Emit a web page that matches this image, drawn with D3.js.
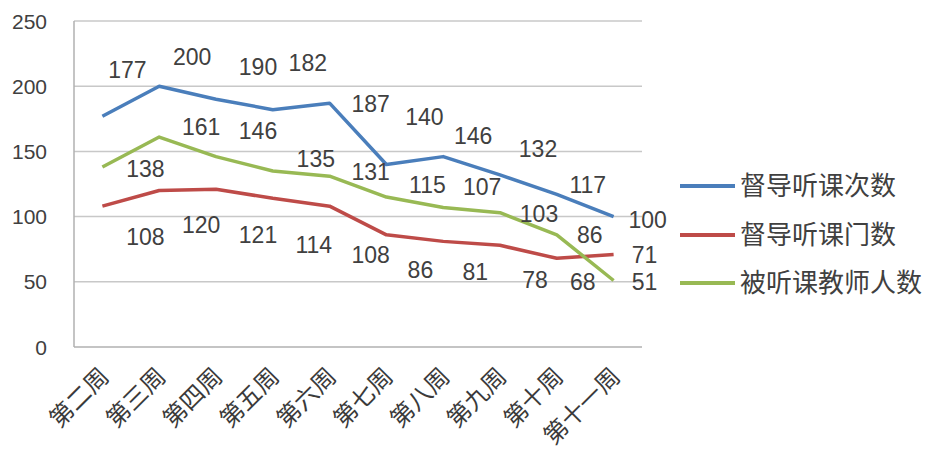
<!DOCTYPE html>
<html><head><meta charset="utf-8">
<script src="https://cdn.jsdelivr.net/npm/d3@7"></script>
<style>body{margin:0;background:#fff}</style>
</head><body>
<script>
const categories = ["第二周","第三周","第四周","第五周","第六周","第七周","第八周","第九周","第十周","第十一周"];
const seriesNames = ["督导听课次数","督导听课门数","被听课教师人数"];
const visits   = [177,200,190,182,187,140,146,132,117,100];
const courses  = [108,120,121,114,108,86,81,78,68,71];
const teachers = [138,161,146,135,131,115,107,103,86,51];
const yTicks = [0,50,100,150,200,250];
// label nudges (px) relative to each point, as placed in the original
const visitsNudge   = [[25,-38],[33,-21],[42,-24],[35,-39],[41,9],[38,-39],[30,-13],[38,-18],[31,-1],[34,11]];
const coursesNudge  = [[43,39],[42,42],[42,54],[41,55],[41,57],[34,43],[32,39],[35,43],[26,32],[31,9]];
const teachersNudge = [[43,10],[42,-2],[42,-18],[43,-4],[41,4],[41,-4],[39,-12],[39,9],[33,8],[31,10]];

const W=928,H=455;
const svg=d3.select("body").append("svg").attr("width",W).attr("height",H);
const x=d3.scalePoint().domain(categories).range([74,642]).padding(0.5);
const y=d3.scaleLinear().domain([0,250]).range([347,21]);

// gridlines
svg.append("g").selectAll("line").data(yTicks.filter(d=>d>0)).join("line")
  .attr("x1",74).attr("x2",642).attr("y1",d=>y(d)).attr("y2",d=>y(d))
  .attr("stroke","#c8c8c8").attr("stroke-width",1.5);
// axes lines
svg.append("line").attr("x1",74).attr("x2",74).attr("y1",y(250)).attr("y2",y(0)).attr("stroke","#b0b0b0").attr("stroke-width",1.5);
svg.append("line").attr("x1",74).attr("x2",642).attr("y1",y(0)).attr("y2",y(0)).attr("stroke","#b0b0b0").attr("stroke-width",1.5);

// y tick labels
svg.append("g").selectAll("text").data(yTicks).join("text")
  .attr("x",47).attr("y",d=>y(d)).attr("dy","0.36em").attr("text-anchor","end")
  .attr("font-family","Liberation Sans, Arial, sans-serif").attr("font-size",21).attr("fill","#404040")
  .text(d=>d);

// x tick labels
svg.append("g").selectAll("text").data(categories).join("text")
  .attr("transform",d=>`translate(${x(d)+8},378) rotate(-45)`)
  .attr("text-anchor","end")
  .attr("font-family","Noto Sans CJK SC, sans-serif").attr("font-size",24).attr("fill","#3a3a3a")
  .text(d=>d);

const series=[
  {name:seriesNames[0],values:visits,color:"#4A7EBB",nudge:visitsNudge},
  {name:seriesNames[1],values:courses,color:"#BE4B48",nudge:coursesNudge},
  {name:seriesNames[2],values:teachers,color:"#98B954",nudge:teachersNudge}
];
const line=d3.line().x((d,i)=>x(categories[i])).y(d=>y(d));
series.forEach(s=>{
  svg.append("path").datum(s.values).attr("d",line).attr("fill","none")
    .attr("stroke",s.color).attr("stroke-width",3.5).attr("stroke-linejoin","round");
});
series.forEach(s=>{
  svg.append("g").selectAll("text").data(s.values).join("text")
    .attr("x",(d,i)=>x(categories[i])+s.nudge[i][0])
    .attr("y",(d,i)=>y(d)+s.nudge[i][1])
    .attr("text-anchor","middle")
    .attr("font-family","Liberation Sans, Arial, sans-serif").attr("font-size",23).attr("fill","#404040")
    .text(d=>d);
});

// legend
const lg=svg.append("g");
const ly=[186,235,283];
series.forEach((s,i)=>{
  lg.append("line").attr("x1",680).attr("x2",735).attr("y1",ly[i]).attr("y2",ly[i])
    .attr("stroke",s.color).attr("stroke-width",4);
  lg.append("text").attr("x",740).attr("y",ly[i]).attr("dy","0.36em")
    .attr("font-family","Noto Sans CJK SC, sans-serif").attr("font-size",26).attr("fill","#404040")
    .text(s.name);
});
</script>
</body></html>
